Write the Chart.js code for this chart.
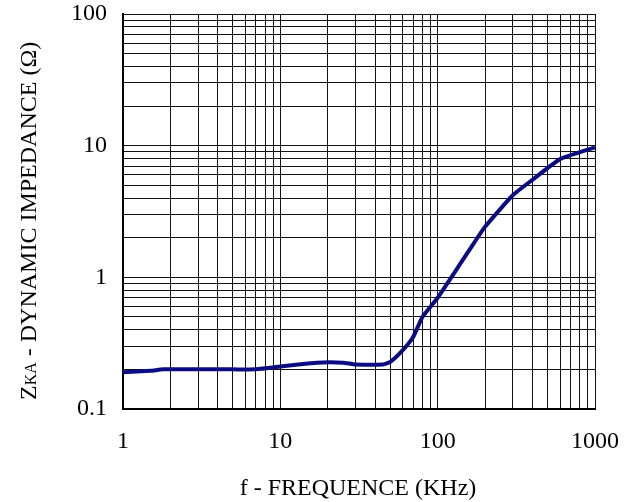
<!DOCTYPE html>
<html>
<head>
<meta charset="utf-8">
<script src="https://cdn.jsdelivr.net/npm/chart.js@4/dist/chart.umd.min.js"></script>
<style>
html,body{margin:0;padding:0;background:#fff;}
#wrap{width:632px;height:502px;position:relative;}
</style>
</head>
<body>
<div id="wrap"><canvas id="c" width="632" height="502"></canvas></div>
<script>
// Data
const freqKHz = [1, 1.5, 1.8, 3, 5, 7, 10, 13, 17, 25, 30, 45, 50, 60, 70, 80, 100, 140, 170, 200, 300, 400, 600, 1000];
const impedance = [0.19, 0.195, 0.2, 0.2, 0.2, 0.2, 0.21, 0.218, 0.225, 0.225, 0.218, 0.218, 0.228, 0.28, 0.354, 0.5, 0.7, 1.28, 1.82, 2.42, 4.2, 5.5, 7.9, 9.7];
const xTickLabels = ['1', '10', '100', '1000'];
const yTickLabels = ['0.1', '1', '10', '100'];
const xTitle = 'f - FREQUENCE (KHz)';
const yTitleMain = 'Z';
const yTitleSub = 'KA';
const yTitleRest = ' - DYNAMIC IMPEDANCE (\u03A9)';

const SERIF = '"Liberation Serif", "DejaVu Serif", serif';

function decadeTicks(labels) {
  const out = [];
  const decs = labels.map(Number);
  for (let i = 0; i < decs.length; i++) {
    if (i < decs.length - 1) {
      for (let m = 1; m <= 9; m++) out.push(+(decs[i] * m).toPrecision(6));
    } else {
      out.push(decs[i]);
    }
  }
  return out;
}
const xGridValues = decadeTicks(xTickLabels);
const yGridValues = decadeTicks(yTickLabels);

const titlesPlugin = {
  id: 'titles',
  afterDraw(chart) {
    const ctx = chart.ctx;
    ctx.save();
    ctx.fillStyle = '#000';
    ctx.font = '24px ' + SERIF;
    ctx.textAlign = 'center';
    ctx.textBaseline = 'alphabetic';
    ctx.fillText(xTitle, 358, 495);
    // y title rotated
    ctx.translate(36, 400);
    ctx.rotate(-Math.PI / 2);
    ctx.textAlign = 'left';
    const big = '24px ' + SERIF, small = '16px ' + SERIF;
    let x = 0;
    ctx.font = big; ctx.fillText(yTitleMain, x, 0); x += ctx.measureText(yTitleMain).width;
    ctx.font = small; ctx.fillText(yTitleSub, x, 0); x += ctx.measureText(yTitleSub).width;
    ctx.font = big; ctx.fillText(yTitleRest, x, 0);
    ctx.restore();
  }
};

new Chart(document.getElementById('c'), {
  type: 'line',
  data: {
    datasets: [{
      data: freqKHz.map((f, i) => ({x: f, y: impedance[i]})),
      borderColor: '#0c0c82',
      borderWidth: 4,
      pointRadius: 0,
      tension: 0.15,
      fill: false
    }]
  },
  options: {
    responsive: false,
    animation: false,
    devicePixelRatio: 1,
    layout: {padding: {top: 14, right: 37, left: 0, bottom: 0}},
    plugins: {legend: {display: false}, tooltip: {enabled: false}},
    scales: {
      x: {
        type: 'logarithmic',
        min: 1, max: 1000,
        afterFit(s) { s.height = 93; s.paddingLeft = 0; s.paddingRight = 0; },
        afterBuildTicks(s) { s.ticks = xGridValues.map(v => ({value: v})); },
        grid: {color: '#111', lineWidth: 1, drawTicks: false},
        border: {display: true, color: '#000', width: 2},
        ticks: {
          autoSkip: false, maxRotation: 0, padding: 18, color: '#000',
          font: {family: SERIF, size: 24},
          callback(v) { const s = String(v); return xTickLabels.includes(s) ? s : ''; }
        }
      },
      y: {
        type: 'logarithmic',
        min: 0.1, max: 100,
        afterFit(s) { s.width = 123; s.paddingTop = 0; s.paddingBottom = 0; },
        afterBuildTicks(s) { s.ticks = yGridValues.map(v => ({value: v})); },
        grid: {color: '#111', lineWidth: 1, drawTicks: false},
        border: {display: true, color: '#000', width: 2},
        ticks: {
          autoSkip: false, padding: 16, color: '#000',
          font: {family: SERIF, size: 24},
          callback(v) { const s = String(v); return yTickLabels.includes(s) ? s : ''; }
        }
      }
    }
  },
  plugins: [titlesPlugin]
});
</script>
</body>
</html>
